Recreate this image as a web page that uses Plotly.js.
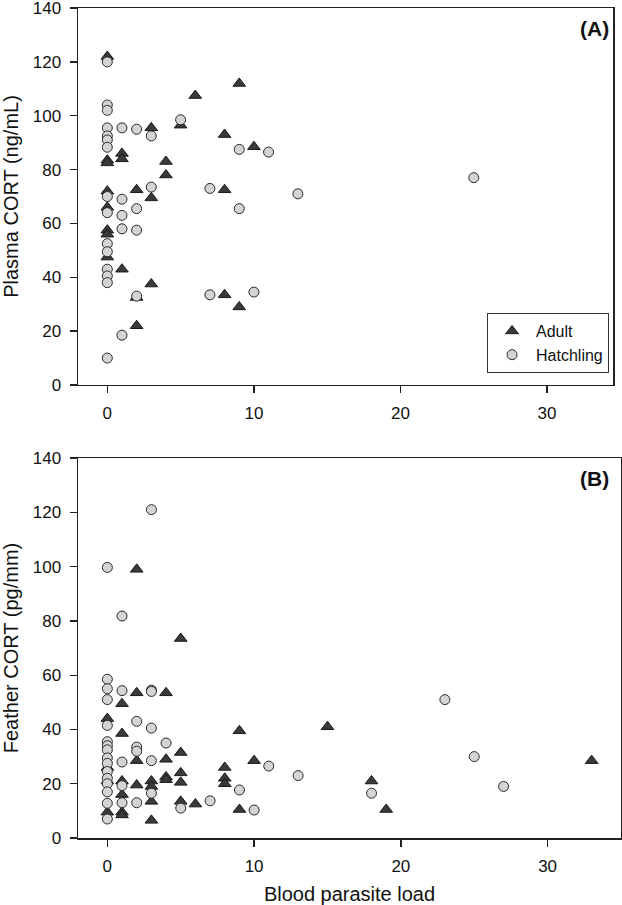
<!DOCTYPE html>
<html>
<head>
<meta charset="utf-8">
<script src="https://cdn.plot.ly/plotly-3.0.1.min.js"></script>
<style>html,body{margin:0;padding:0;background:#fff}#chart{width:622px;height:905px}</style>
</head>
<body>
<div id="chart"></div>
<script>
// Panel A: Plasma CORT (ng/mL) vs blood parasite load
var adultA_x = [0,0,0,0,0,0,0,0, 1,1,1, 2,2,2, 3,3,3, 4,4, 5, 6, 8,8,8, 9,9, 10];
var adultA_y = [122,83.5,82.5,72,66,57.5,56,47.5, 86,84,43, 72.5,32.5,22, 95.5,69.5,37.5, 83,78, 96.5, 107.5, 93,72.5,33.5, 112,29, 88.5];
var hatchA_x = [0,0,0,0,0,0,0,0,0,0,0,0,0,0,0, 1,1,1,1,1, 2,2,2,2, 3,3, 5, 7,7, 9,9, 10, 11, 13, 25];
var hatchA_y = [120,104,102,95.5,92.5,91,88.3,70,64,52.5,49.5,43,40.5,38,10, 95.5,69,63,58,18.5, 95,65.5,57.5,33, 92.5,73.5, 98.5, 73,33.5, 87.5,65.5, 34.5, 86.5, 71, 77];

// Panel B: Feather CORT (pg/mm) vs blood parasite load
var adultB_x = [0,0,0,0, 1,1,1,1,1,1, 2,2,2,2, 3,3,3,3, 4,4,4,4, 5,5,5,5,5, 6, 8,8,8, 9,9, 10, 15, 18, 19, 33];
var adultB_y = [44,26,21,9.5, 49.5,38.5,21,16,9.5,8.5, 99,53.5,28.5,19.5, 21,19,13.5,6.5, 53.5,29,22.5,21.5, 73.5,31.5,24,20.5,13.5, 12.5, 26,22,20, 39.5,10.5, 28.5, 41, 21, 10.5, 28.5];
var hatchB_x = [0,0,0,0,0,0,0,0,0,0,0,0,0,0,0,0, 1,1,1,1,1, 2,2,2,2, 3,3,3,3,3,3, 4, 5, 7, 9, 10, 11, 13, 18, 23, 25, 27];
var hatchB_y = [99.7,58.5,55,51,41.5,35.5,34,32.5,29.5,27.5,24.5,22,20,17,12.8,7, 81.8,54.3,28,19.3,13, 43,33.5,32,13, 121,54.5,54,40.5,28.5,16.5, 35, 11, 13.7, 17.7, 10.3, 26.5, 23, 16.5, 51, 30, 19];

var xTicks = [0,10,20,30];
var yTicks = [0,20,40,60,80,100,120,140];

var FONT = '"Liberation Sans", Arial, Helvetica, sans-serif';
var triMarker = {symbol:'triangle-up', size:11, color:'#3a3a3a', line:{color:'#1a1a1a', width:1}};
var cirMarker = {symbol:'circle', size:10, color:'#d4d4d4', line:{color:'#2a2a2a', width:1}};

var traces = [
  {x:adultA_x, y:adultA_y, type:'scatter', mode:'markers', name:'Adult', marker:triMarker, xaxis:'x', yaxis:'y'},
  {x:hatchA_x, y:hatchA_y, type:'scatter', mode:'markers', name:'Hatchling', marker:cirMarker, xaxis:'x', yaxis:'y'},
  {x:adultB_x, y:adultB_y, type:'scatter', mode:'markers', name:'Adult', marker:triMarker, xaxis:'x2', yaxis:'y2', showlegend:false},
  {x:hatchB_x, y:hatchB_y, type:'scatter', mode:'markers', name:'Hatchling', marker:cirMarker, xaxis:'x2', yaxis:'y2', showlegend:false}
];

function axisBase(){
  return {showgrid:false, zeroline:false, showline:true, linecolor:'#222', linewidth:1.5,
    mirror:true, ticks:'outside', ticklen:7, tickwidth:1.3, tickcolor:'#222',
    tickfont:{family:FONT, size:17, color:'#111'}, ticklabelstandoff:5, ticklabeloverflow:'allow'};
}

var xa = axisBase(); xa.domain=[0,0.9853]; xa.range=[-2,34.5]; xa.tickvals=xTicks; xa.anchor='y';
var xb = axisBase(); xb.domain=[0,1]; xb.range=[-2,35]; xb.tickvals=xTicks; xb.anchor='y2';
xb.title={text:'Blood parasite load', font:{family:FONT, size:20, color:'#111'}, standoff:16};
var ya = axisBase(); ya.domain=[0.5458,1]; ya.range=[0,140.02]; ya.tickvals=yTicks; ya.anchor='x';
ya.title={text:'Plasma CORT (ng/mL)', font:{family:FONT, size:20, color:'#111'}, standoff:12};
var yb = axisBase(); yb.domain=[0,0.4578]; yb.range=[0,140.02]; yb.tickvals=yTicks; yb.anchor='x2';
yb.title={text:'Feather CORT (pg/mm)', font:{family:FONT, size:20, color:'#111'}, standoff:12};

var layout = {
  width:622, height:905,
  margin:{l:78, r:1, t:8, b:67},
  paper_bgcolor:'#fff', plot_bgcolor:'#fff',
  font:{family:FONT, color:'#111'},
  showlegend:true,
  legend:{x:0.978, y:0.5602, xanchor:'right', yanchor:'bottom', bgcolor:'#fff', itemwidth:38,
    bordercolor:'#333', borderwidth:1, font:{family:FONT, size:16, color:'#111'}, tracegroupgap:0},
  xaxis:xa, yaxis:ya, xaxis2:xb, yaxis2:yb,
  annotations:[
    {text:'<b>(A)</b>', xref:'paper', yref:'paper', x:0.9816, y:0.9747, xanchor:'right', yanchor:'middle', showarrow:false, font:{family:FONT, size:21, color:'#111'}},
    {text:'<b>(B)</b>', xref:'paper', yref:'paper', x:0.9816, y:0.4337, xanchor:'right', yanchor:'middle', showarrow:false, font:{family:FONT, size:21, color:'#111'}}
  ]
};

Plotly.newPlot('chart', traces, layout, {displayModeBar:false, staticPlot:true});
</script>
</body>
</html>
